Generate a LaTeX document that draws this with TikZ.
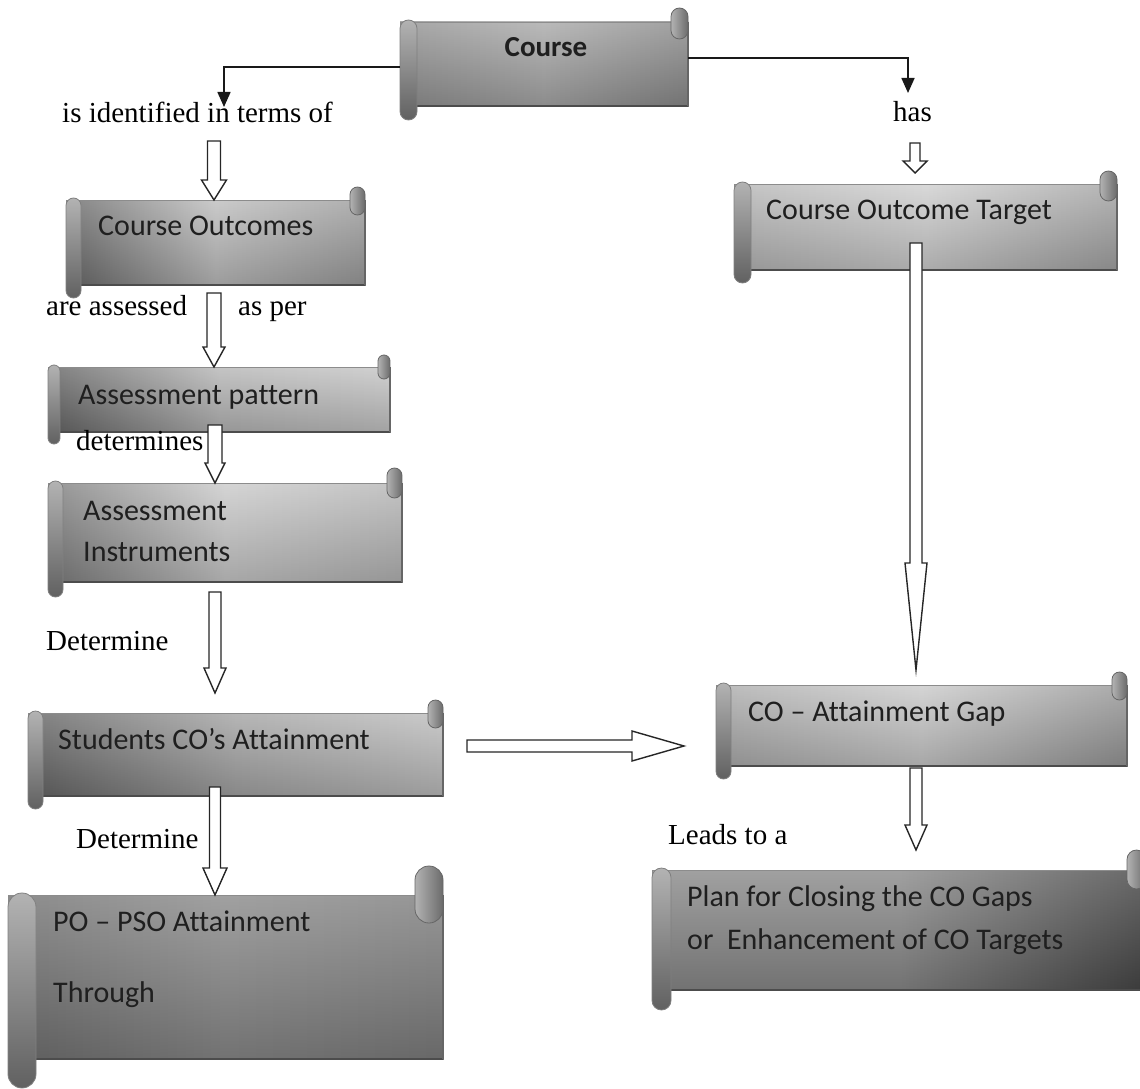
\documentclass[tikz,border=0pt]{standalone}
\usepackage{fontspec}
\setmainfont{Liberation Serif}
\newfontfamily\boxfont[Ligatures=NoCommon]{Carlito}
\usetikzlibrary{arrows.meta,calc,fit}

\tikzset{
  area/.style={inner sep=0pt, outer sep=0pt},
  boxtext/.style={anchor=base west, inner sep=0pt, font=\boxfont\fontsize{30}{36}\selectfont, text=black!88},
  lbl/.style={anchor=base west, inner sep=0pt, font=\fontsize{29}{34}\selectfont, text=black},
  hollow/.style={draw=black!85, fill=white, line width=1.4pt, line join=miter},
  conn/.style={draw=black!90, line width=1.6pt, -{Triangle[width=13pt,length=15pt]}},
}

% #1 node, #2 roll width, #3 roll overhang, #4 left, #5 middle, #6 right colour
\newcommand\scroll[6]{%
  \pgfmathsetmacro\rr{#2/2}%
  \path[left color=#4, right color=#6, middle color=#5, draw=black!55, line width=0.9pt]
     let \p1=(#1.north west), \p2=(#1.south east) in (\x1,\y1) rectangle (\x2,\y2);
  \path[top color=white, bottom color=black, fill opacity=0.18]
     let \p1=(#1.north west), \p2=(#1.south east) in (\x1,\y1) rectangle (\x2,\y2);
  \draw[black!70, line width=2.2pt]
     let \p1=(#1.north west), \p2=(#1.south east) in (\x1,\y2) -- (\x2,\y2);
  \draw[black!60, line width=1.5pt]
     let \p1=(#1.north west), \p2=(#1.south east) in (\x2,\y1) -- (\x2,\y2);
  \path[rounded corners=\rr pt, top color=black!30, bottom color=black!62, draw=black!50, line width=0.8pt]
     let \p1=(#1.north west), \p2=(#1.south east) in (\x1,\y1+2pt) rectangle (\x1+#2pt,\y2-#3pt);
  \path[rounded corners=\rr pt, left color=black!30, right color=black!58, draw=black!60, line width=0.8pt]
     let \p1=(#1.north west), \p2=(#1.south east) in (\x2-#2pt,\y1+#3pt) rectangle (\x2,\y1-#2pt);
}

% hollow block arrows: #1 start, #2 tip, #3 shaft half width, #4 head half width, #5 head length
\newcommand\vhollow[5]{%
  \draw[hollow] let \p1=(#1), \p2=(#2) in
    (\x1-#3pt,\y1) -- (\x1-#3pt,\y2+#5pt) -- (\x1-#4pt,\y2+#5pt) -- (\x1,\y2)
    -- (\x1+#4pt,\y2+#5pt) -- (\x1+#3pt,\y2+#5pt) -- (\x1+#3pt,\y1) -- cycle;}
\newcommand\hhollow[5]{%
  \draw[hollow] let \p1=(#1), \p2=(#2) in
    (\x1,\y1+#3pt) -- (\x2-#5pt,\y1+#3pt) -- (\x2-#5pt,\y1+#4pt) -- (\x2,\y1)
    -- (\x2-#5pt,\y1-#4pt) -- (\x2-#5pt,\y1-#3pt) -- (\x1,\y1-#3pt) -- cycle;}

\begin{document}
\begin{tikzpicture}[x=1pt,y=-1pt]
\useasboundingbox (0,0) rectangle (1140,1089);
\clip (0,0) rectangle (1140,1089);

% box areas
\node[area, fit={(400,22) (688,106)}] (course) {};
\node[area, fit={(66,200) (365,285)}] (co) {};
\node[area, fit={(48,367) (390,432)}] (ap) {};
\node[area, fit={(48,483) (402,582)}] (ai) {};
\node[area, fit={(28,713) (443,796)}] (sa) {};
\node[area, fit={(8,895) (443,1059)}] (po) {};
\node[area, fit={(734,184) (1117,270)}] (cot) {};
\node[area, fit={(716,685) (1127,766)}] (gap) {};
\node[area, fit={(652,870) (1146,990)}] (plan) {};

\scroll{course}{17}{14}{black!42}{black!33}{black!45}
\scroll{co}{15}{13}{black!58}{black!25}{black!38}
\scroll{ap}{12}{12}{black!60}{black!28}{black!22}
\scroll{ai}{15}{15}{black!50}{black!20}{black!28}
\scroll{sa}{15}{13}{black!60}{black!35}{black!25}
\scroll{po}{28}{29}{black!55}{black!45}{black!50}
\scroll{cot}{17}{13}{black!28}{black!18}{black!35}
\scroll{gap}{15}{13}{black!32}{black!20}{black!40}
\scroll{plan}{19}{20}{black!45}{black!45}{black!72}

% box texts
\node[boxtext, anchor=base, font=\boxfont\bfseries\fontsize{29}{36}\selectfont] (tcourse) at (546,57) {Course};
\node[boxtext] (tco) at (98,235) {Course Outcomes};
\node[boxtext] (tap) at (78,404) {Assessment pattern};
\node[boxtext] (tai1) at (83,520) {Assessment};
\node[boxtext] (tai2) at (83,561) {Instruments};
\node[boxtext] (tsa) at (58,749) {Students CO’s Attainment};
\node[boxtext] (tpo1) at (53,931) {PO – PSO Attainment};
\node[boxtext] (tpo2) at (53,1002) {Through};
\node[boxtext] (tcot) at (766,219) {Course Outcome Target};
\node[boxtext] (tgap) at (748,721) {CO – Attainment Gap};
\node[boxtext] (tplan1) at (687,906) {Plan for Closing the CO Gaps};
\node[boxtext] (tplan2) at (687,949) {or\ \ Enhancement of CO Targets};

% connector labels
\node[lbl] (l1) at (62,123) {is identified in terms of};
\node[lbl] (l2) at (893,122) {has};
\node[lbl] (l3) at (46,315) {are assessed};
\node[lbl] (l4) at (238,315) {as per};
\node[lbl] (l5) at (76,450) {determines};
\node[lbl] (l6) at (46,650) {Determine};
\node[lbl] (l7) at (76,848) {Determine};
\node[lbl] (l8) at (668,844) {Leads to a};

% line connectors from Course
\coordinate (tipL) at (224,107);
\coordinate (tipR) at (908,93);
\draw[conn] ($(course.west)+(0,3)$) -| (tipL);
\draw[conn] ($(course.east)+(0,-6)$) -| (tipR);

% hollow block arrows
\coordinate (s1) at (214,141);
\coordinate (s2) at (915,143);
\coordinate (s3) at (214,293);
\coordinate (s4) at (215,425);
\coordinate (s5) at (215,592);
\coordinate (s6) at (215,787);
\coordinate (s7) at (467,746);
\coordinate (s8) at (916,243);
\coordinate (s9) at (916,768);

\vhollow{s1}{co.north -| s1}{6.5}{12.5}{20}
\vhollow{s2}{$(cot.north -| s2)+(0,-11)$}{5}{12}{12}
\vhollow{s3}{ap.north -| s3}{7}{11}{20}
\vhollow{s4}{ai.north -| s4}{7}{10}{20}
\vhollow{s5}{$(sa.north -| s5)+(0,-20)$}{6}{11}{25}
\vhollow{s6}{po.north -| s6}{5.5}{12}{27}
\hhollow{s7}{$(gap.west |- s7)+(-32,0)$}{6}{15}{52}
\vhollow{s8}{$(gap.north -| s8)+(0,-15)$}{6}{11}{107}
\vhollow{s9}{$(plan.north -| s9)+(0,-20)$}{6}{11}{25}
\end{tikzpicture}
\end{document}
